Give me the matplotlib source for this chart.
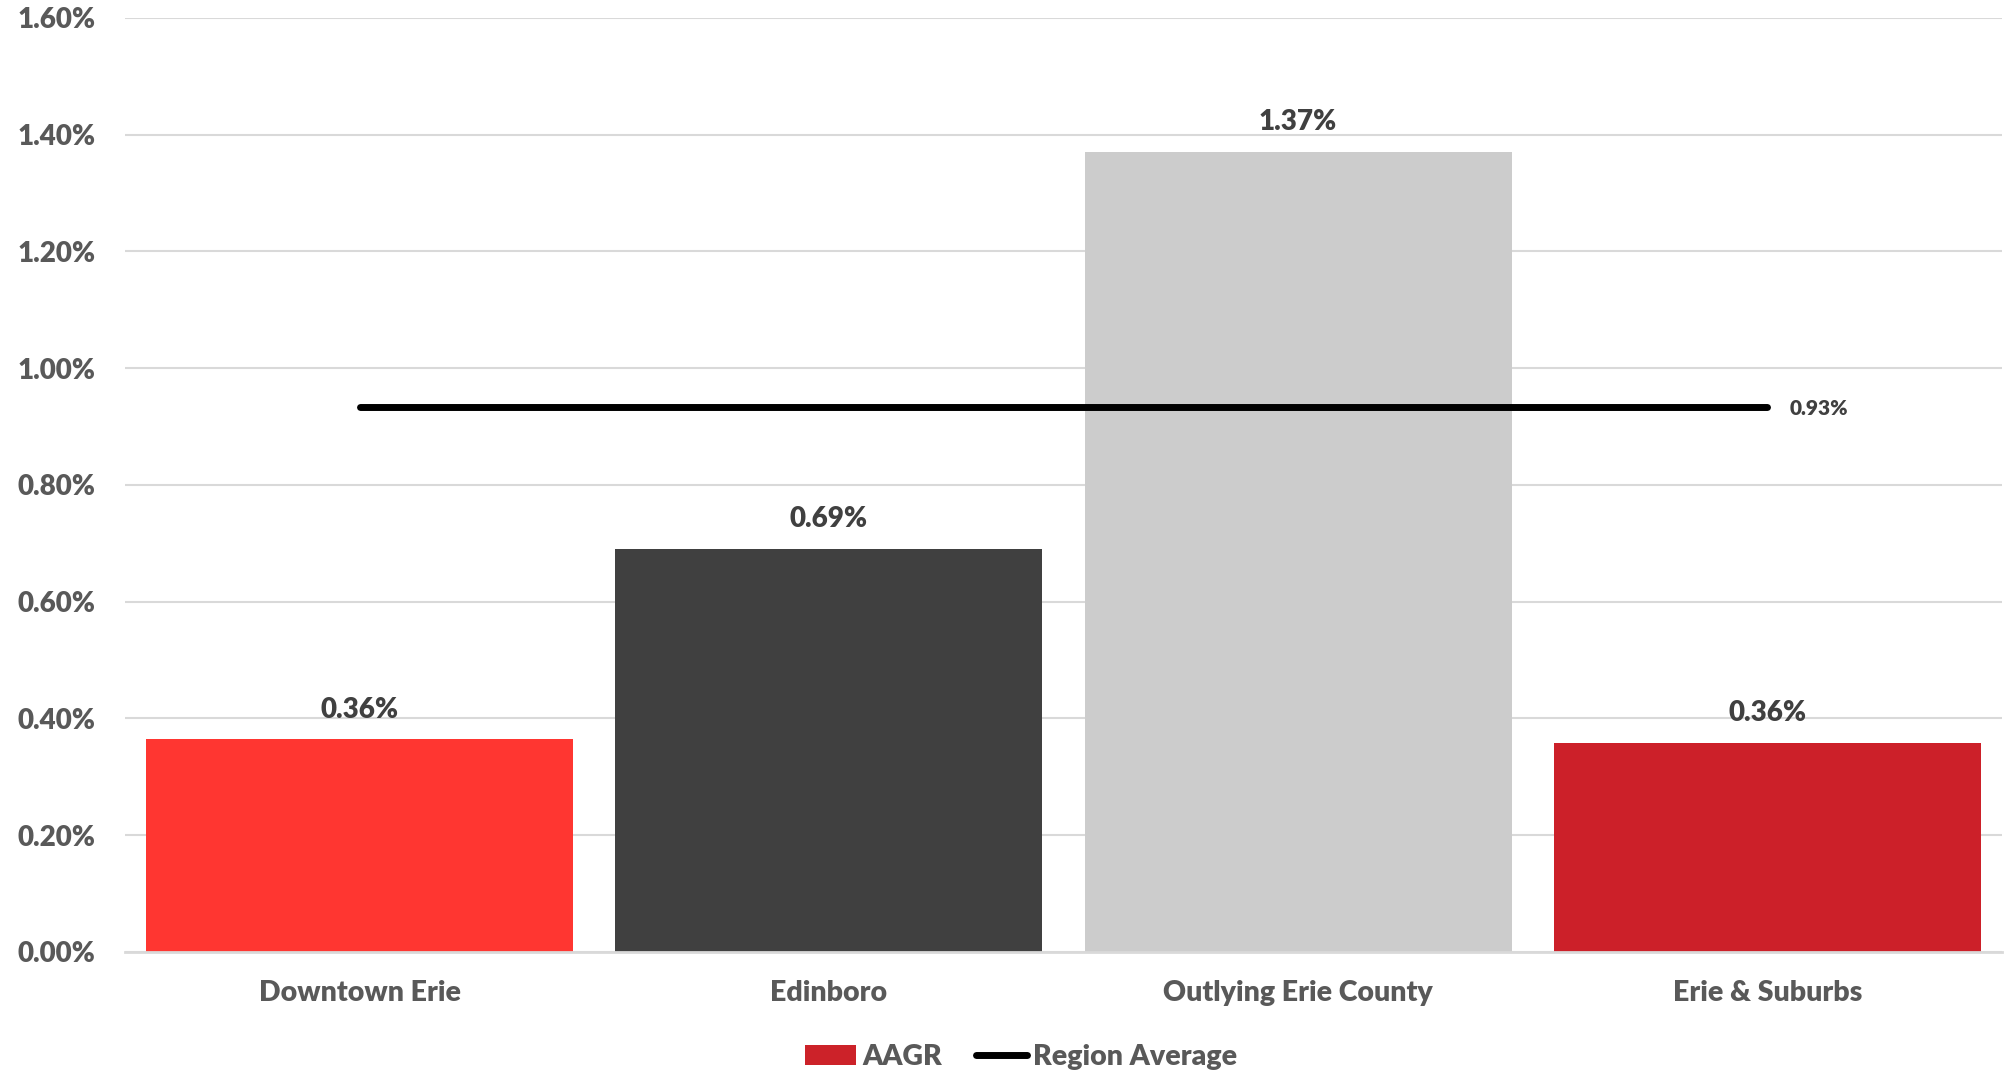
import matplotlib
matplotlib.use("Agg")
import matplotlib.pyplot as plt
from matplotlib.lines import Line2D
from matplotlib.patches import Patch
from matplotlib.ticker import FuncFormatter

plt.rcParams["font.family"] = ["Lato", "DejaVu Sans"]

# values (percent)
areas      = ["Downtown Erie", "Edinboro", "Outlying Erie County", "Erie & Suburbs"]
aagr       = [0.364, 0.69, 1.37, 0.358]
region_avg = [0.933, 0.933, 0.933, 0.933]
bar_colors = ["#FF3631", "#404040", "#CCCCCC", "#CC2029"]
y_ticks    = [0.0, 0.2, 0.4, 0.6, 0.8, 1.0, 1.2, 1.4, 1.6]

TXT  = "#595959"
DARK = "#404040"
GRID = "#D9D9D9"
W    = 800  # heavier than plain bold, closer to the Calibri bold look

fig = plt.figure(figsize=(20.06, 10.74), dpi=100)
ax = fig.add_axes([0.0623, 0.1136, 0.9357, 0.8699])

x = list(range(len(areas)))
ax.bar(x, aagr, width=0.91, color=bar_colors, zorder=2)
ax.plot(x, region_avg, color="black", linewidth=5, solid_capstyle="round", zorder=3)

for xi, v in zip(x, aagr):
    ax.annotate(f"{v:.2f}%", (xi, v), xytext=(0, 12), textcoords="offset points",
                ha="center", va="bottom", fontsize=20, fontweight=W, color=DARK)

ax.annotate(f"{region_avg[-1]:.2f}%", (x[-1], region_avg[-1]), xytext=(16, -1),
            textcoords="offset points", ha="left", va="center",
            fontsize=15, fontweight=W, color=DARK)

ax.set_xlim(-0.5, len(areas) - 0.5)
ax.set_ylim(0, 1.6)
ax.set_yticks(y_ticks)
ax.yaxis.set_major_formatter(FuncFormatter(lambda v, _: f"{v:.2f}%"))
ax.set_xticks(x)
ax.set_xticklabels(areas)

ax.grid(axis="y", color=GRID, linewidth=1.5, zorder=0)
ax.set_axisbelow(True)
for s in ["top", "right", "left"]:
    ax.spines[s].set_visible(False)
ax.spines["bottom"].set_color(GRID)
ax.spines["bottom"].set_linewidth(2)
ax.tick_params(axis="y", length=0, colors=TXT, labelsize=20, pad=21)
ax.tick_params(axis="x", length=0, colors=TXT, labelsize=20.5, pad=20)
for lbl in ax.get_xticklabels() + ax.get_yticklabels():
    lbl.set_fontweight(W)

handles = [
    Patch(facecolor="#CC2229", label="AAGR"),
    Line2D([0], [0], color="black", linewidth=5, solid_capstyle="round", label="Region Average"),
]
leg = fig.legend(handles=handles, loc="lower center", bbox_to_anchor=(0.509, -0.02), ncol=2,
                 frameon=False, fontsize=20.5, handlelength=1.8, handletextpad=0.2,
                 columnspacing=1.2)
for t in leg.get_texts():
    t.set_color(TXT)
    t.set_fontweight(W)

fig.savefig("out.png", dpi=100)
